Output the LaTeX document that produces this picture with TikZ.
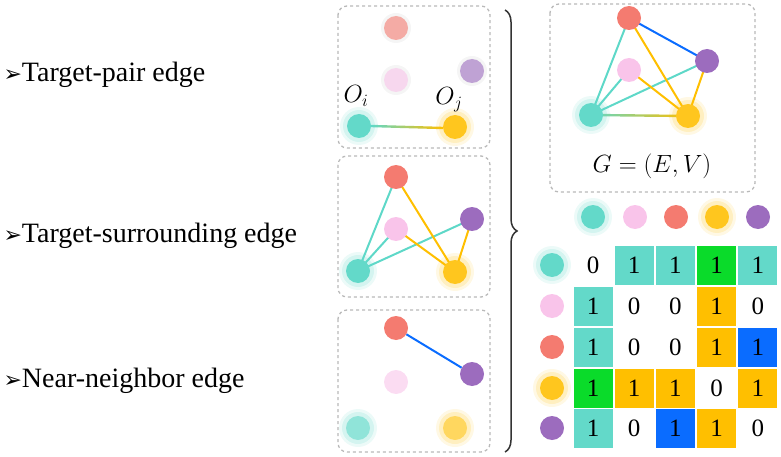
\documentclass[tikz,border=0pt]{standalone}
\usepackage{fontspec}
\setmainfont{Liberation Serif}
\newfontfamily\djfont{DejaVu Sans}
\usetikzlibrary{decorations.pathreplacing}
\definecolor{cteal}{HTML}{63D9C9}
\definecolor{cpink}{HTML}{F9C4EA}
\definecolor{cred}{HTML}{F47B70}
\definecolor{cyel}{HTML}{FFC61E}
\definecolor{cpur}{HTML}{9C6CBE}
\definecolor{cblue}{HTML}{0A6CFF}
\definecolor{cgreen}{HTML}{0ADB2A}
\definecolor{myel}{HTML}{FFBF00}
\definecolor{eteal}{HTML}{5ED8C8}
\tikzset{
 dot/.style={circle,fill=#1,minimum size=24pt,inner sep=0pt},
 fdot/.style={circle,fill=#1,opacity=0.6,minimum size=24pt,inner sep=0pt},
 panel/.style={draw=gray!55,dashed,line width=1.3pt,rounded corners=9pt},
 lab/.style={anchor=west,font=\fontsize{28}{30}\selectfont},
 tedge/.style={eteal,line width=2pt},
 yedge/.style={myel,line width=2pt},
 bedge/.style={cblue,line width=2pt},
 cell/.style={minimum size=39pt,inner sep=0pt,font=\fontsize{25}{26}\selectfont,fill=#1},
}
\newcommand{\glow}[2]{%
 \fill[#1,opacity=0.12] (#2) circle (19pt);
 \fill[#1,opacity=0.18] (#2) circle (16pt);}
\begin{document}
\begin{tikzpicture}[x=1pt,y=-1pt]
\useasboundingbox (0,0) rectangle (781,457);
% labels
\node[lab] (l1) at (0,75) {{\djfont\fontsize{22}{24}\selectfont ➢}Target-pair edge};
\node[lab] (l2) at (0,236) {{\djfont\fontsize{22}{24}\selectfont ➢}Target-surrounding edge};
\node[lab] (l3) at (0,381) {{\djfont\fontsize{22}{24}\selectfont ➢}Near-neighbor edge};
% panels
\draw[panel] (338,6) rectangle (490,148);
\draw[panel] (338,156) rectangle (490,297);
\draw[panel] (338,310) rectangle (490,452);
\draw[panel] (550,4) rectangle (755,192);
% brace
\draw[decorate,decoration={brace,amplitude=12pt},line width=1.5pt,gray!40!black] (505,10) -- (505,452);
% panel 1
\glow{cteal}{359,126}\glow{cyel}{455,127}
\fill[gray!8] (396,28) circle (15pt); \fill[gray!8] (396,80) circle (15pt); \fill[gray!8] (472,71) circle (15pt);
\node[fdot=cred] (a1) at (396,28) {};
\node[fdot=cpink] (a2) at (396,80) {};
\node[fdot=cpur] (a3) at (472,71) {};
\shade[left color=eteal,right color=myel] (371,124.8) -- (443,126.8) -- (443,129.2) -- (371,127.2) -- cycle;
\node[dot=cteal] (a4) at (359,126) {};
\node[dot=cyel] (a5) at (455,127) {};
\node (oi) at (356,96) {\fontsize{26}{28}\selectfont$O_i$};
\node (oj) at (449,100) {\fontsize{26}{28}\selectfont$O_j$};
% panel 2
\glow{cteal}{358,271}\glow{cyel}{455,272}
\coordinate (b1) at (396,177); \coordinate (b2) at (396,229); \coordinate (b3) at (472,219);
\coordinate (b4) at (358,271); \coordinate (b5) at (455,272);
\draw[tedge] (b4) -- (b1); \draw[tedge] (b4) -- (b2); \draw[tedge] (b4) -- (b3);
\draw[yedge] (b5) -- (b1); \draw[yedge] (b5) -- (b2); \draw[yedge] (b5) -- (b3);
\node[dot=cred] (e1) at (b1) {};\node[dot=cpink] (e2) at (b2) {};\node[dot=cpur] (e3) at (b3) {};
\node[dot=cteal] (e4) at (b4) {};\node[dot=cyel] (e5) at (b5) {};
% panel 3
\glow{cteal}{358,428}\glow{cyel}{455,428}
\node[dot=cred] (c1) at (396,328) {};
\node[fdot=cpink] (c2) at (396,382) {};
\node[dot=cpur] (c3) at (472,374) {};
\node[fdot=cteal] (c4) at (358,428) {};
\node[fdot=cyel] (c5) at (455,428) {};
\draw[bedge] (c1) -- (c3);
% top right graph
\glow{cteal}{591,115}\glow{cyel}{688,116}
\coordinate (g1) at (629,18); \coordinate (g2) at (629,70); \coordinate (g3) at (707,61);
\coordinate (g4) at (591,115); \coordinate (g5) at (688,116);
\draw[bedge] (g1) -- (g3);
\draw[tedge] (g4) -- (g1); \draw[tedge] (g4) -- (g2); \draw[tedge] (g4) -- (g3);
\draw[yedge] (g5) -- (g1); \draw[yedge] (g5) -- (g2); \draw[yedge] (g5) -- (g3);
\shade[left color=eteal,right color=myel] (591,113.8) -- (688,114.8) -- (688,117.2) -- (591,116.2) -- cycle;
\node[dot=cred] (d1) at (g1) {}; \node[dot=cpink] (d2) at (g2) {}; \node[dot=cpur] (d3) at (g3) {};
\node[dot=cteal] (d4) at (g4) {}; \node[dot=cyel] (d5) at (g5) {};
\node (G) at (652,166) {\fontsize{29}{31}\selectfont$G=(E,V)$};
% matrix header
\glow{cteal}{593,217}\glow{cyel}{717,217}
\node[dot=cteal] (h1) at (593,217) {};\node[dot=cpink] (h2) at (635,217) {};
\node[dot=cred] (h3) at (676,217) {};\node[dot=cyel] (h4) at (717,217) {};
\node[dot=cpur] (h5) at (758,217) {};
\glow{cteal}{552,265}\glow{cyel}{552,388}
\node[dot=cteal] (r1) at (552,265) {};\node[dot=cpink] (r2) at (552,306) {};
\node[dot=cred] (r3) at (552,347) {};\node[dot=cyel] (r4) at (552,388) {};
\node[dot=cpur] (r5) at (552,428) {};
% matrix cells
\foreach \r/\y/\row in {1/265/{0/white,1/cteal,1/cteal,1/cgreen,1/cteal},
 2/306/{1/cteal,0/white,0/white,1/myel,0/white},
 3/347/{1/cteal,0/white,0/white,1/myel,1/cblue},
 4/388/{1/cgreen,1/myel,1/myel,0/white,1/myel},
 5/428/{1/cteal,0/white,1/cblue,1/myel,0/white}}{
 \foreach \v/\c [count=\i] in \row {
  \pgfmathsetmacro{\xx}{593+41.2*(\i-1)}
  \node[cell=\c] (m\r\i) at (\xx,\y) {\v};
 }}
\end{tikzpicture}
\end{document}
